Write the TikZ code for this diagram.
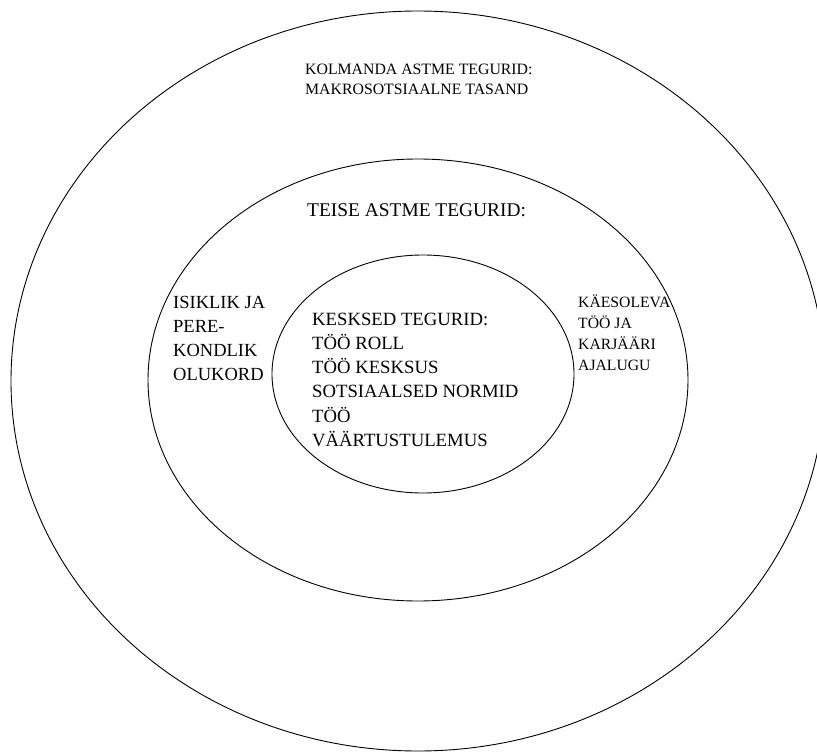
\documentclass[tikz,border=0pt]{standalone}
\usepackage{fontspec}
\setmainfont{Liberation Serif}
\usetikzlibrary{shapes.geometric}
\begin{document}
\begin{tikzpicture}[x=1pt,y=-1pt,
  ring/.style={draw=black, line width=0.9pt, ellipse, inner sep=0pt, minimum width=#1},
  lbl/.style={anchor=base west, inner sep=0pt, align=left, text=black}]
\useasboundingbox (0,0) rectangle (817,752);
\node[ring=814pt, minimum height=740pt] (outer) at (418,381) {};
\node[ring=540pt, minimum height=442pt] (middle) at (418,380) {};
\node[ring=302pt, minimum height=238pt] (inner) at (423,374) {};
% anchors are at the baseline of the last line of each block
\node[lbl, font=\fontsize{15.8}{20}\selectfont] (third) at (305,95)
  {KOLMANDA ASTME TEGURID:\\MAKROSOTSIAALNE TASAND};
\node[lbl, font=\fontsize{19.4}{24}\selectfont] (second) at (307,216)
  {TEISE ASTME TEGURID:};
\node[lbl, font=\fontsize{18.5}{24}\selectfont] (family) at (173,380)
  {ISIKLIK JA\\PERE-\\KONDLIK\\OLUKORD};
\node[lbl, font=\fontsize{18.7}{24.3}\selectfont] (core) at (312,446.5)
  {KESKSED TEGURID:\\TÖÖ ROLL\\TÖÖ KESKSUS\\SOTSIAALSED NORMID\\TÖÖ\\VÄÄRTUSTULEMUS};
\node[lbl, font=\fontsize{15.7}{20.7}\selectfont] (career) at (578,370)
  {KÄESOLEVA\\TÖÖ JA\\KARJÄÄRI\\AJALUGU};
\end{tikzpicture}
\end{document}
